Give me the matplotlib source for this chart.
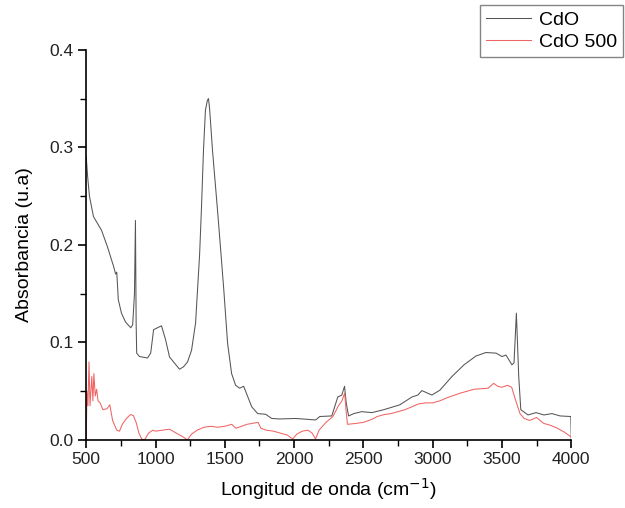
import matplotlib
matplotlib.use("Agg")
import matplotlib.pyplot as plt
from matplotlib.ticker import MultipleLocator, FormatStrFormatter

plt.rcParams['font.family'] = ['Liberation Sans', 'DejaVu Sans']

# CdO spectrum
cdo_x = [500, 510, 523, 552, 581, 610, 653, 697, 712, 720, 725, 731, 754, 783, 821, 835,
         848, 855, 860, 864, 884, 942, 965, 986, 1014, 1043, 1072, 1101, 1130, 1173, 1202,
         1231, 1260, 1289, 1318, 1331, 1346, 1360, 1374, 1382, 1390, 1411, 1447, 1470, 1492,
         1520, 1549, 1578, 1607, 1636, 1665, 1694, 1737, 1795, 1838, 1896, 2011, 2156, 2185,
         2272, 2315, 2344, 2364, 2376, 2393, 2431, 2488, 2561, 2647, 2763, 2850, 2893, 2922,
         2994, 3052, 3139, 3226, 3312, 3384, 3457, 3500, 3529, 3572, 3587, 3604, 3621, 3636,
         3688, 3746, 3803, 3861, 3919, 3997, 4000]
cdo_y = [0.290, 0.270, 0.250, 0.229, 0.222, 0.215, 0.198, 0.178, 0.170, 0.172, 0.160, 0.144,
         0.130, 0.121, 0.115, 0.118, 0.150, 0.225, 0.120, 0.089, 0.0855, 0.084, 0.089, 0.113,
         0.115, 0.117, 0.103, 0.085, 0.080, 0.0725, 0.075, 0.080, 0.092, 0.120, 0.190, 0.236,
         0.297, 0.338, 0.348, 0.350, 0.340, 0.297, 0.236, 0.195, 0.155, 0.099, 0.068, 0.056,
         0.053, 0.055, 0.0445, 0.034, 0.027, 0.0263, 0.022, 0.0215, 0.022, 0.0205, 0.024,
         0.0246, 0.044, 0.046, 0.055, 0.038, 0.0246, 0.027, 0.029, 0.028, 0.031, 0.036, 0.044,
         0.046, 0.0506, 0.046, 0.051, 0.065, 0.077, 0.086, 0.0896, 0.089, 0.0855, 0.087, 0.077,
         0.079, 0.130, 0.065, 0.031, 0.0256, 0.028, 0.0256, 0.027, 0.0246, 0.024, 0.0]

# CdO 500 spectrum
cdo500_x = [500, 505, 512, 520, 527, 540, 548, 555, 565, 575, 585, 600, 620, 650, 670, 690,
            720, 740, 760, 790, 820, 840, 860, 880, 900, 920, 950, 980, 1000, 1050, 1100,
            1150, 1200, 1230, 1260, 1300, 1350, 1400, 1450, 1500, 1550, 1580, 1620, 1660,
            1700, 1740, 1760, 1800, 1850, 1900, 1950, 1990, 2020, 2060, 2100, 2130, 2155,
            2180, 2230, 2280, 2320, 2345, 2365, 2375, 2385, 2450, 2500, 2560, 2600, 2650,
            2700, 2750, 2800, 2850, 2900, 2950, 3000, 3050, 3100, 3200, 3300, 3400, 3440,
            3470, 3500, 3540, 3570, 3600, 3630, 3660, 3700, 3750, 3800, 3850, 3900, 3950, 4000]
cdo500_y = [0.0, 0.050, 0.035, 0.080, 0.035, 0.065, 0.040, 0.068, 0.045, 0.052, 0.040, 0.038,
            0.031, 0.032, 0.036, 0.020, 0.010, 0.009, 0.016, 0.022, 0.026, 0.025, 0.018, 0.007,
            0.001, 0.0, 0.007, 0.010, 0.009, 0.010, 0.011, 0.007, 0.003, 0.0, 0.006, 0.010,
            0.013, 0.014, 0.013, 0.014, 0.016, 0.012, 0.014, 0.016, 0.017, 0.018, 0.012, 0.010,
            0.009, 0.007, 0.005, 0.001, 0.006, 0.009, 0.010, 0.007, 0.001, 0.010, 0.018, 0.024,
            0.035, 0.040, 0.048, 0.030, 0.016, 0.017, 0.018, 0.021, 0.024, 0.026, 0.027, 0.029,
            0.031, 0.034, 0.037, 0.038, 0.038, 0.040, 0.043, 0.048, 0.052, 0.053, 0.058, 0.055,
            0.054, 0.056, 0.054, 0.040, 0.027, 0.022, 0.020, 0.023, 0.017, 0.015, 0.012, 0.008,
            0.003]

fig = plt.figure(figsize=(6.25, 5.08), dpi=100)
ax = fig.add_axes([0.138, 0.134, 0.776, 0.768])

l1, = ax.plot(cdo_x, cdo_y, color='#555555', lw=0.75, label='CdO')
l2, = ax.plot(cdo500_x, cdo500_y, color='#f06464', lw=0.75, label='CdO 500')

ax.set_xlim(500, 4000)
ax.set_ylim(0, 0.4)
ax.xaxis.set_major_locator(MultipleLocator(500))
ax.xaxis.set_minor_locator(MultipleLocator(250))
ax.yaxis.set_major_locator(MultipleLocator(0.1))
ax.yaxis.set_minor_locator(MultipleLocator(0.05))
ax.yaxis.set_major_formatter(FormatStrFormatter('%.1f'))
ax.spines['top'].set_visible(False)
ax.spines['right'].set_visible(False)
for s in ('left', 'bottom'):
    ax.spines[s].set_linewidth(1.2)
ax.tick_params(which='major', direction='out', length=6, width=1.2, labelsize=12.5,
               labelcolor='#222222', pad=3)
ax.tick_params(which='minor', direction='out', length=4, width=1.0)
ax.set_xlabel('Longitud de onda (cm$^{-1}$)', fontsize=14, labelpad=6)
ax.set_ylabel('Absorbancia (u.a)', fontsize=14, labelpad=12)

leg = fig.legend(handles=[l1, l2], loc='upper right', bbox_to_anchor=(0.996, 0.99),
                 fontsize=14, frameon=True, fancybox=False, handlelength=2.3,
                 borderpad=0.3, labelspacing=0.25, handletextpad=0.4, borderaxespad=0)
leg.get_frame().set_edgecolor('#666666')
leg.get_frame().set_linewidth(1.0)

fig.savefig('out.png', dpi=100)
